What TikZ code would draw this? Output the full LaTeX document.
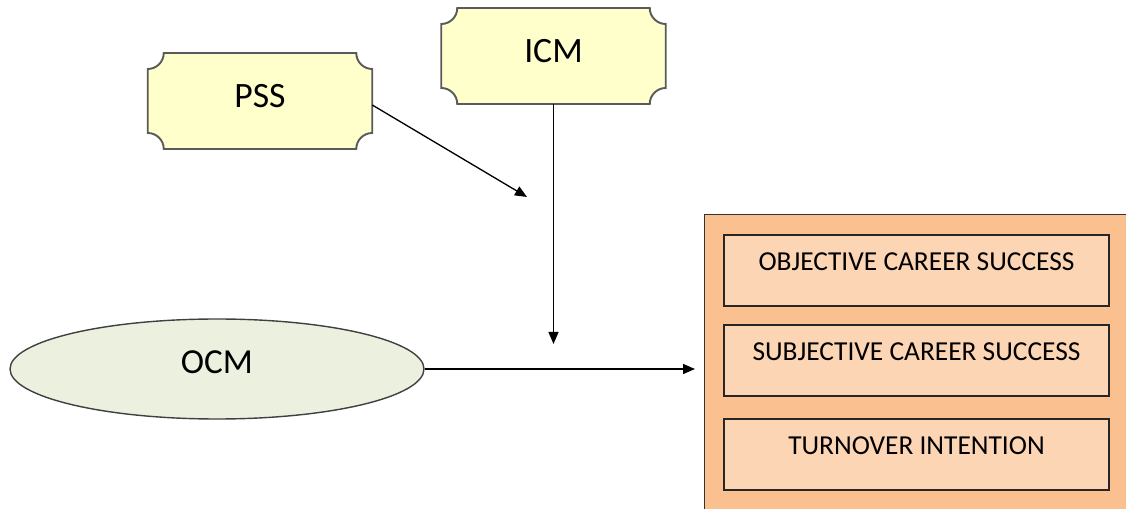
\documentclass[tikz,border=0pt]{standalone}
\usepackage{fontspec}
\setmainfont{Carlito}
\usepackage{tikz}
\usetikzlibrary{shapes.geometric, arrows.meta, positioning, backgrounds}
\definecolor{plaquefill}{HTML}{FFFFCC}
\definecolor{plaqueedge}{HTML}{5A5A5A}
\definecolor{ocmfill}{HTML}{EBF1DE}
\definecolor{outcomefill}{HTML}{FAC090}
\definecolor{itemfill}{HTML}{FCD5B5}

\begin{document}
\begin{tikzpicture}[auto]
    \tikzstyle{plaque} = [rectangle, draw=none, outer sep=0pt, minimum width=4.49cm, minimum height=1.92cm, text depth=0.22cm, font=\fontsize{20.3}{24}\selectfont]
    \tikzstyle{plaqueline} = [fill=plaquefill, draw=plaqueedge, line width=1.1pt]
    \tikzstyle{oval} = [ellipse, draw=black!75, line width=0.8pt, fill=ocmfill, minimum width=8.28cm, minimum height=2cm, text depth=0.26cm, font=\fontsize{20}{24}\selectfont]
    \tikzstyle{group} = [rectangle, draw=black!80, line width=0.8pt, fill=outcomefill]
    \tikzstyle{item} = [rectangle, draw=black!85, line width=0.8pt, fill=itemfill, minimum width=7.7cm, minimum height=1.42cm, text depth=0.36cm, font=\fontsize{15.6}{18}\selectfont]
    \tikzstyle{arrow} = [line width=0.75pt, -{Triangle[length=0.24cm, width=0.2cm]}]
    \def\r{0.32cm}

    \useasboundingbox (0,0) rectangle (22.52,10.16);

    % moderators and predictor
    \node [plaque] (pss) at (5.2,8.14) {PSS};
    \node [plaque] (icm) at (11.07,9.04) {ICM};
    \node [oval] (ocm) at (4.34,2.78) {OCM};

    % outcome block
    \node [group, minimum width=8.6cm, minimum height=6cm, anchor=north west] (outcome) at (14.08,5.88) {};
    \node [item] (obj) at (18.33,4.75) {OBJECTIVE CAREER SUCCESS};
    \node [item] (subj) at (18.33,2.95) {SUBJECTIVE CAREER SUCCESS};
    \node [item] (turn) at (18.33,1.07) {TURNOVER INTENTION};

    % plaque outlines with hollow corners
    \begin{pgfonlayer}{background}
    \foreach \n in {pss, icm} {
        \filldraw [plaqueline] ([xshift=\r]\n.north west) -- ([xshift=-\r]\n.north east)
            arc [start angle=180, end angle=270, radius=\r]
            -- ([yshift=\r]\n.south east)
            arc [start angle=90, end angle=180, radius=\r]
            -- ([xshift=\r]\n.south west)
            arc [start angle=0, end angle=90, radius=\r]
            -- ([yshift=-\r]\n.north west)
            arc [start angle=270, end angle=360, radius=\r] -- cycle;
    }
    \end{pgfonlayer}

    \coordinate (pssend) at (10.54,6.22);
    \coordinate (icmend) at (11.07,3.28);
    \coordinate (ocmend) at (13.9,2.78);

    \draw [arrow] ([yshift=-0.08cm]pss.east) -- (pssend);
    \draw [arrow] (icm.south) -- (icmend);
    \draw [arrow] (ocm.east) -- (ocmend);
\end{tikzpicture}
\end{document}
